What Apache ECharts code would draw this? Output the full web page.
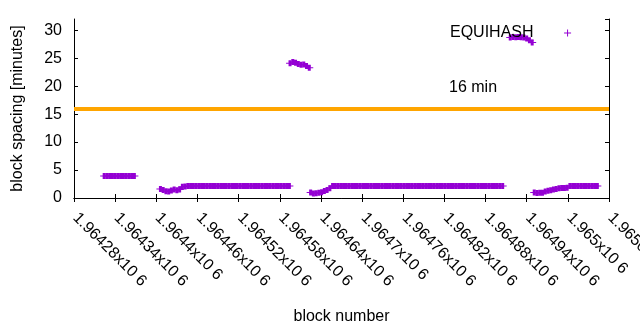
<!DOCTYPE html>
<html>
<head>
<meta charset="utf-8">
<script src="https://cdn.jsdelivr.net/npm/echarts@6/dist/echarts.min.js"></script>
<style>
    html, body { margin: 0; padding: 0; background: #fff; }
    #chart { width: 640px; height: 330px; }
</style>
</head>
<body>
<div id="chart"></div>
<script>
    // block numbers where each run of points starts, one point every 4 blocks
    var blockStep = 4;
    var runStarts = [1964324, 1964406, 1964595, 1964625, 1964916, 1964951];

    // block spacing [minutes]
    var runA = [3.95, 3.95, 3.95, 3.95, 3.95, 3.95, 3.95, 3.95, 3.95, 3.95, 3.95, 3.95];
    var runB = [1.6, 1.45, 1.2, 1.15, 1.35, 1.5, 1.4, 1.5, 2.0, 2.05,
        2.15, 2.15, 2.15, 2.15, 2.15, 2.15, 2.15, 2.15, 2.15, 2.15,
        2.15, 2.15, 2.15, 2.15, 2.15, 2.15, 2.15, 2.15, 2.15, 2.15,
        2.15, 2.15, 2.15, 2.15, 2.15, 2.15, 2.15, 2.15, 2.15, 2.15,
        2.15, 2.15, 2.15, 2.15, 2.15, 2.15, 2.15, 2.15];
    var runC = [24.1, 24.3, 24.2, 23.95, 23.8, 23.85, 23.6, 23.3];
    var runD = [1.0, 0.8, 0.85, 0.95, 1.05, 1.25, 1.45, 1.75,
        2.15, 2.15, 2.15, 2.15, 2.15, 2.15, 2.15, 2.15, 2.15, 2.15,
        2.15, 2.15, 2.15, 2.15, 2.15, 2.15, 2.15, 2.15, 2.15, 2.15,
        2.15, 2.15, 2.15, 2.15, 2.15, 2.15, 2.15, 2.15, 2.15, 2.15,
        2.15, 2.15, 2.15, 2.15, 2.15, 2.15, 2.15, 2.15, 2.15, 2.15,
        2.15, 2.15, 2.15, 2.15, 2.15, 2.15, 2.15, 2.15, 2.15, 2.15,
        2.15, 2.15, 2.15, 2.15, 2.15, 2.15, 2.15, 2.15, 2.15, 2.15,
        2.15, 2.15, 2.15];
    var runE = [28.7, 28.8, 28.75, 28.8, 28.75, 28.7, 28.5, 28.2, 27.8];
    var runF = [1.0, 0.9, 0.95, 0.95, 1.15, 1.3, 1.4, 1.5, 1.6, 1.75, 1.8, 1.8, 1.85,
        2.15, 2.15, 2.15, 2.15, 2.15, 2.15, 2.15, 2.15, 2.15, 2.15, 2.15];

    var targetSpacing = 16;
    var xMin = 1964280, xMax = 1965060, xStep = 60;
    var yMax = 32, yStep = 5;

    var runs = [runA, runB, runC, runD, runE, runF];
    var points = [];
    runs.forEach(function (run, r) {
        run.forEach(function (v, i) {
            points.push([runStarts[r] + i * blockStep, v]);
        });
    });

    var font = 'Liberation Sans';
    var plusBold = 'path://M0,2.5L8,2.5L8,3.5L0,3.5Z M2.5,0L5.5,0L5.5,6L2.5,6Z';
    var plusThin = 'path://M0,3L7,3L7,4L0,4Z M3,0L4,0L4,7L3,7Z';

    function blockLabel(v) {
        return Number((v / 1e6).toFixed(5)) + 'x10 6';
    }

    var chart = echarts.init(document.getElementById('chart'));
    var option = {
        animation: false,
        backgroundColor: '#fff',
        textStyle: { fontFamily: font },
        grid: { left: 74, right: 31, top: 19, bottom: 132, outerBoundsMode: 'none' },
        legend: {
            left: 450,
            top: 25,
            padding: 0,
            align: 'right',
            itemWidth: 58,
            itemHeight: 7,
            symbolKeepAspect: true,
            data: [{ name: 'EQUIHASH', icon: plusThin }],
            textStyle: { fontFamily: font, fontSize: 16, color: '#000' }
        },
        xAxis: [
            {
                type: 'value',
                min: xMin,
                max: xMax,
                interval: xStep,
                name: 'block number',
                nameLocation: 'middle',
                nameGap: 111,
                nameTextStyle: { fontFamily: font, fontSize: 16, color: '#000' },
                axisLine: { lineStyle: { color: '#000', width: 1 } },
                axisTick: { inside: true, length: 4, lineStyle: { color: '#000' } },
                axisLabel: {
                    rotate: -45,
                    margin: 16,
                    padding: [0, 0, 0, 2],
                    fontFamily: font,
                    fontSize: 16,
                    color: '#000',
                    formatter: blockLabel
                },
                splitLine: { show: false }
            },
            {
                type: 'value',
                position: 'top',
                min: xMin,
                max: xMax,
                interval: xStep,
                axisLine: { lineStyle: { color: '#000', width: 1 } },
                axisTick: { inside: true, length: 4, lineStyle: { color: '#000' } },
                axisLabel: { show: false },
                splitLine: { show: false }
            }
        ],
        yAxis: [
            {
                type: 'value',
                min: 0,
                max: yMax,
                interval: yStep,
                name: 'block spacing [minutes]',
                nameLocation: 'middle',
                nameGap: 48,
                nameTextStyle: { fontFamily: font, fontSize: 16, color: '#000' },
                axisLine: { show: true, lineStyle: { color: '#000', width: 1 } },
                axisTick: { show: true, inside: true, length: 4, lineStyle: { color: '#000' } },
                axisLabel: { margin: 12, fontFamily: font, fontSize: 16, color: '#000', showMaxLabel: false },
                splitLine: { show: false }
            },
            {
                type: 'value',
                position: 'right',
                min: 0,
                max: yMax,
                interval: yStep,
                axisLine: { show: true, lineStyle: { color: '#000', width: 1 } },
                axisTick: { show: true, inside: true, length: 4, lineStyle: { color: '#000' } },
                axisLabel: { show: false },
                splitLine: { show: false }
            }
        ],
        graphic: [
            {
                type: 'text',
                left: 449,
                top: 80,
                style: { text: '16 min', font: '16px "Liberation Sans"', fill: '#000' }
            }
        ],
        series: [
            {
                name: 'EQUIHASH',
                type: 'scatter',
                symbol: plusBold,
                symbolSize: [8, 6],
                itemStyle: { color: '#9400d3', opacity: 1 },
                data: points,
                markLine: {
                    silent: true,
                    symbol: 'none',
                    label: { show: false },
                    lineStyle: { color: '#ffa500', width: 4, type: 'solid' },
                    data: [{ yAxis: targetSpacing }]
                }
            }
        ]
    };
    chart.setOption(option);
</script>
</body>
</html>
